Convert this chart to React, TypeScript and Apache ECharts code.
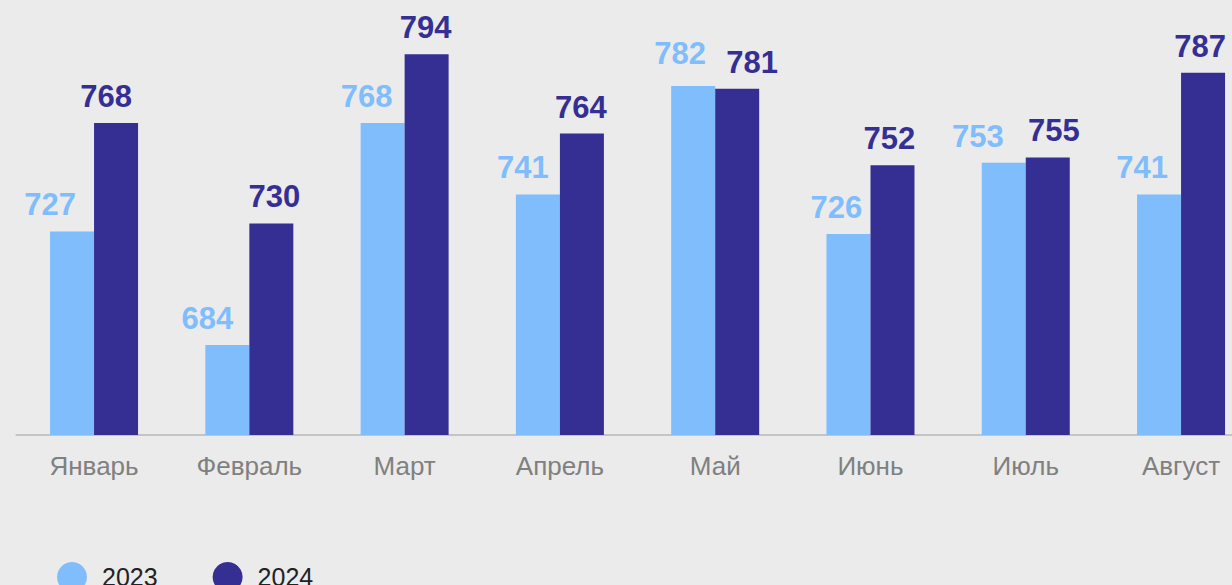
import React, { useEffect, useRef } from "react";
import * as echarts from "echarts";

const categories = ["Январь", "Февраль", "Март", "Апрель", "Май", "Июнь", "Июль", "Август"];
const values2023 = [727, 684, 768, 741, 782, 726, 753, 741];
const values2024 = [768, 730, 794, 764, 781, 752, 755, 787];
const seriesNames = ["2023", "2024"];

// label nudges (styling only)
const shift2023: [number, number][] = [[-22, 0], [-20, 0], [-16, 0], [-15, 0], [-13, -6], [-12, 0], [-26, 0], [-17, 0]];
const shift2024: [number, number][] = [[-10, 0], [3, 0], [-1, 0], [-1, 0], [15, 0], [-3, 0], [6, 0], [-3, 0]];

const LIGHT = "#80bdfc";
const DARK = "#352f93";
const FONT = "Liberation Sans, Arial, sans-serif";

export default function App() {
  const ref = useRef<HTMLDivElement>(null);
  useEffect(() => {
    if (!ref.current) return;
    const chart = echarts.init(ref.current, undefined, { renderer: "svg" });
    const mk = (vals: number[], shifts: [number, number][]) =>
      vals.map((v, i) => ({ value: v, label: { offset: shifts[i] } }));
    const labelStyle = (color: string) => ({
      show: true,
      position: "top",
      distance: 11,
      color,
      fontSize: 31,
      fontWeight: "bold",
      fontFamily: FONT,
    });
    chart.setOption({
      animation: false,
      backgroundColor: "#ebebeb",
      grid: {
        left: 16.4,
        top: 38.4,
        width: 1242.3,
        bottom: 150,
        containLabel: false,
        outerBoundsMode: "none",
      },
      legend: {
        left: 52,
        top: 557,
        icon: "circle",
        itemWidth: 30,
        itemHeight: 30,
        itemGap: 55,
        textStyle: { fontSize: 25, color: "#222", fontFamily: FONT, padding: [0, 0, 0, 10] },
        data: seriesNames,
      },
      xAxis: {
        type: "category",
        data: categories,
        axisLine: { show: true, lineStyle: { color: "#c4c4c4", width: 2 } },
        axisTick: { show: false },
        axisLabel: { color: "#808080", fontSize: 26, margin: 18, fontFamily: FONT },
      },
      yAxis: { type: "value", min: 650, max: 800, show: false, splitLine: { show: false } },
      series: [
        {
          name: seriesNames[0],
          type: "bar",
          data: mk(values2023, shift2023),
          barWidth: 44,
          barGap: "0%",
          itemStyle: { color: LIGHT },
          label: labelStyle(LIGHT),
        },
        {
          name: seriesNames[1],
          type: "bar",
          data: mk(values2024, shift2024),
          barWidth: 44,
          barGap: "0%",
          itemStyle: { color: DARK },
          label: labelStyle(DARK),
        },
      ],
    });
    return () => chart.dispose();
  }, []);
  return <div ref={ref} style={{ position: "fixed", left: 0, top: 0, width: 1232, height: 585 }} />;
}
